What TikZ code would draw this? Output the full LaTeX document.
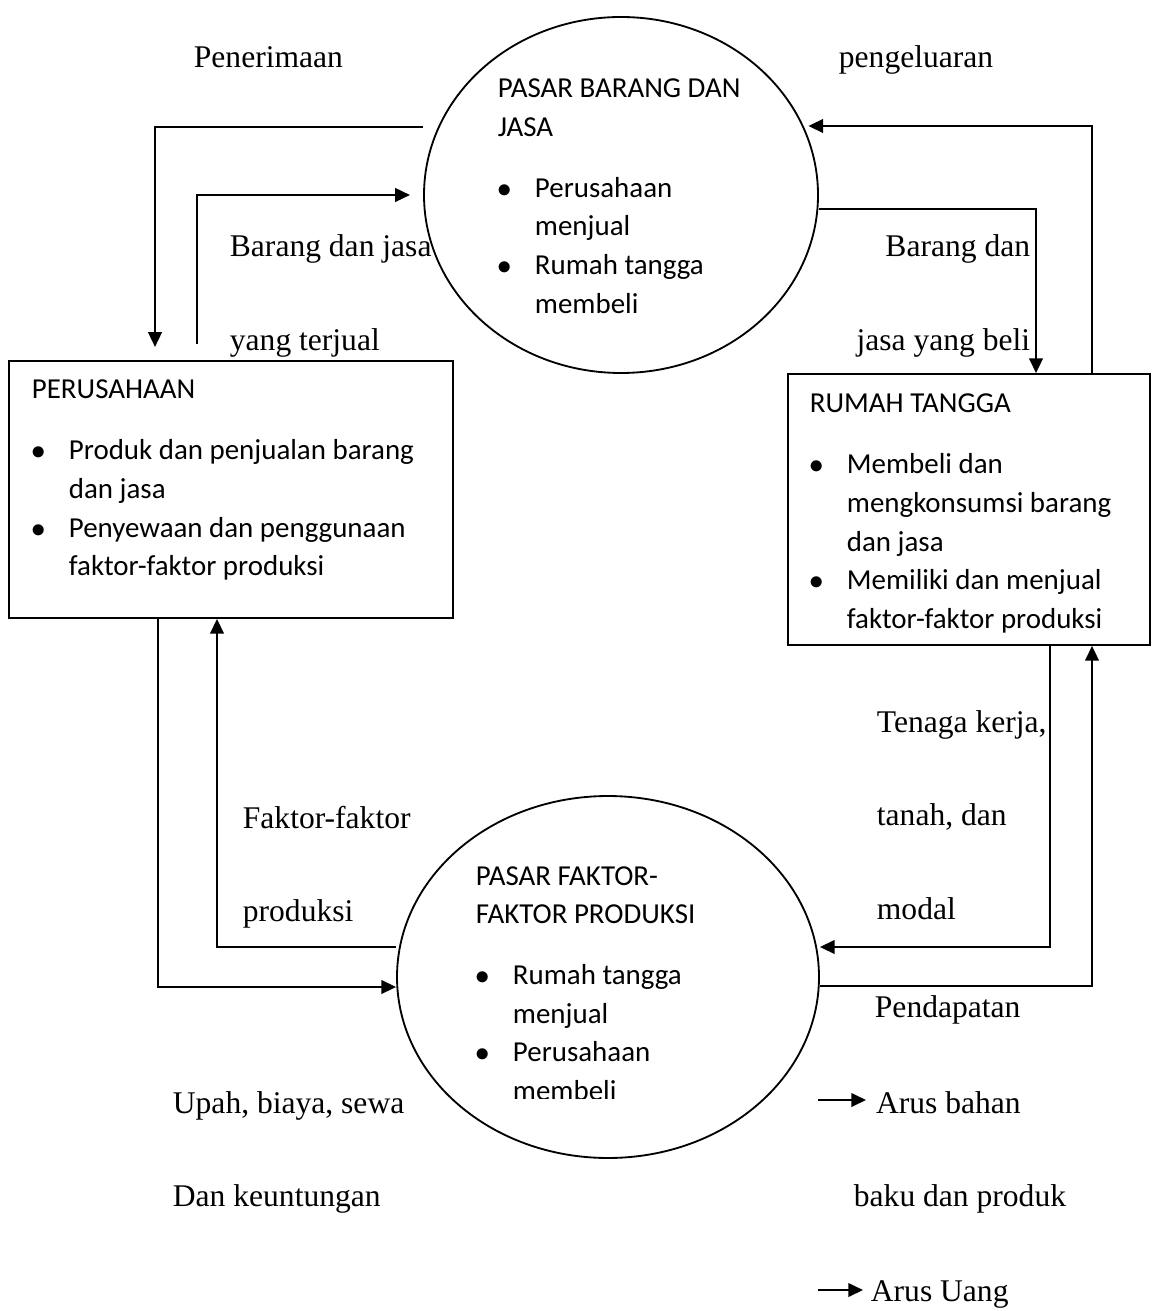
\documentclass[tikz,border=0pt]{standalone}
\usepackage{fontspec}
\setmainfont{Liberation Serif}
\newfontfamily\calibri{Carlito}
\usetikzlibrary{arrows.meta,shapes.geometric}

\newcommand{\bul}{\makebox[14.07pt][l]{$\bullet$}}
\newcommand{\ind}{\hspace*{14.07pt}}

\begin{document}
\begin{tikzpicture}[x=0.3802pt, y=-0.3802pt, line width=0.7pt,
  flow/.style={-{Triangle[length=5.6pt,width=5.2pt]}},
  market/.style={draw, ellipse, inner sep=0pt},
  sector/.style={draw, rectangle, inner sep=0pt},
  inbox/.style={anchor=base west, inner sep=0pt, text width=170pt, align=flush left,
    font=\calibri\fontsize{11}{14.64}\selectfont},
  lbl/.style={anchor=base west, inner sep=0pt, text width=110pt, align=flush left,
    font=\fontsize{12}{35.7}\selectfont}]
  \useasboundingbox (0,0) rectangle (1155,1311);

  % Markets and sectors
  \node[market, minimum width=149.8pt, minimum height=135.35pt] (goods) at (621,195) {};
  \node[market, minimum width=160.44pt, minimum height=137.63pt] (factor) at (608,977) {};
  \node[sector, minimum width=168.81pt, minimum height=97.71pt] (firm) at (231,489.5) {};
  \node[sector, minimum width=137.63pt, minimum height=103.03pt] (house) at (969,509.5) {};

  % Texts inside
  \node[inbox] (goods-txt) at (497,98) {PASAR BARANG DAN\\JASA\\[8.55pt]
    \bul Perusahaan\\\ind menjual\\\bul Rumah tangga\\\ind membeli};
  \begin{scope}
    \clip (0,0) rectangle (1155,1098);
    \node[inbox] (factor-txt) at (475,885) {PASAR FAKTOR-\\FAKTOR PRODUKSI\\[8.55pt]
      \bul Rumah tangga\\\ind menjual\\\bul Perusahaan\\\ind membeli};
  \end{scope}
  \node[inbox] (firm-txt) at (31,399) {PERUSAHAAN\\[8.55pt]
    \bul Produk dan penjualan barang\\\ind dan jasa\\
    \bul Penyewaan dan penggunaan\\\ind faktor-faktor produksi};
  \node[inbox] (house-txt) at (809,413) {RUMAH TANGGA\\[8.55pt]
    \bul Membeli dan\\\ind mengkonsumsi barang\\\ind dan jasa\\
    \bul Memiliki dan menjual\\\ind faktor-faktor produksi};

  % Flows
  \draw[flow, shorten >=5pt] (goods.west |- 0,127) -| (firm.north -| 155,0);
  \draw[flow, shorten <=6pt] (firm.north -| 197,0) |- ([xshift=-5pt]goods.west);
  \draw[flow] (house.north -| 1092,0) |- ([xshift=-4pt]goods.east |- 0,126);
  \draw[flow] (goods.east |- 0,209) -| (house.north -| 1036,0);
  \draw[flow] (firm.south -| 158,0) |- (factor.west |- 0,987);
  \draw[flow] (factor.west |- 0,947) -| (firm.south -| 217,0);
  \draw[flow] (house.south -| 1050,0) |- (factor.east |- 0,947);
  \draw[flow] (factor.east |- 0,986) -| (house.south -| 1092,0);

  % Labels
  \node[lbl] (pen) at (193,68) {Penerimaan};
  \node[lbl] (peng) at (838,68) {pengeluaran};
  \node[lbl] (sold) at (229,257) {Barang dan jasa\\yang terjual};
  \node[lbl, anchor=base east, text width=75pt, align=flush right] (bought) at (1031,257)
    {Barang dan\\jasa yang beli};
  \node[lbl] (input) at (876,732) {Tenaga kerja,\\tanah, dan\\modal};
  \node[lbl] (income) at (874,1017) {Pendapatan};
  \node[lbl] (fprod) at (242,828) {Faktor-faktor\\produksi};
  \node[lbl] (wage) at (172,1113) {Upah, biaya, sewa\\Dan keuntungan};

  % Legend
  \coordinate (key1a) at (818,1100);
  \coordinate (key1b) at (866,1100);
  \coordinate (key2a) at (818,1290);
  \coordinate (key2b) at (863,1290);
  \draw[flow] (key1a) -- (key1b);
  \draw[flow] (key2a) -- (key2b);
  \node[lbl] (key1) at (853,1113) {\hspace*{8.4pt}Arus bahan\\baku dan produk};
  \node[lbl] (key2) at (870,1301) {Arus Uang};
\end{tikzpicture}
\end{document}
